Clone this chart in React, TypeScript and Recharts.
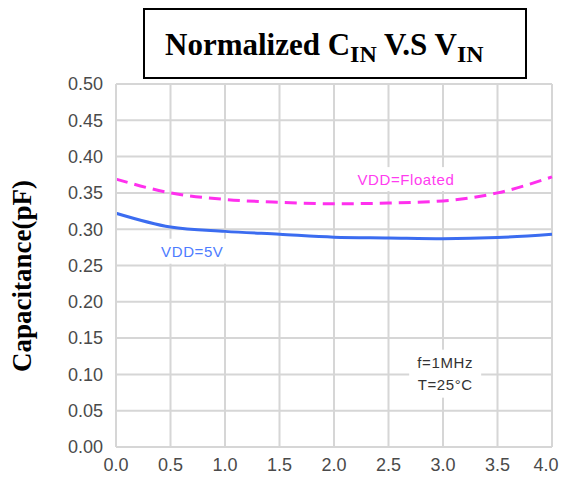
import React from 'react';
import { LineChart, Line, XAxis, YAxis, CartesianGrid, ReferenceDot } from 'recharts';

const vin = [0, 0.5, 1.0, 1.5, 2.0, 2.5, 3.0, 3.5, 4.0];
const capFloated = [0.369, 0.35, 0.341, 0.337, 0.335, 0.336, 0.339, 0.35, 0.372];
const cap5V = [0.322, 0.303, 0.297, 0.293, 0.289, 0.288, 0.287, 0.2885, 0.293];
const xTicks = [0, 0.5, 1.0, 1.5, 2.0, 2.5, 3.0, 3.5, 4.0];
const yTicks = [0, 0.05, 0.1, 0.15, 0.2, 0.25, 0.3, 0.35, 0.4, 0.45, 0.5];

const data = vin.map((v, i) => ({ vin: v, floated: capFloated[i], v5: cap5V[i] }));

const SANS = 'Liberation Sans, Arial, sans-serif';
const SERIF = 'Liberation Serif, Times New Roman, serif';
const GRID = '#d6d6d6';
const TICK = '#4a4a4a';

const BoxLabel = (props: any) => {
  const { viewBox, lines, color, w, h, size } = props;
  if (!viewBox) return null;
  const cx = viewBox.x + (viewBox.width || 0) / 2;
  const cy = viewBox.y + (viewBox.height || 0) / 2;
  const lh = size * 1.5;
  const startY = cy - ((lines.length - 1) * lh) / 2;
  return (
    <g>
      <rect x={cx - w / 2} y={cy - h / 2} width={w} height={h} fill="#fff" />
      {lines.map((t: string, i: number) => (
        <text
          key={i}
          x={cx}
          y={startY + i * lh}
          dy="0.36em"
          textAnchor="middle"
          fontFamily={SANS}
          fontSize={size}
          letterSpacing={0.6}
          fill={color}
        >
          {t}
        </text>
      ))}
    </g>
  );
};

const XTick = (props: any) => {
  const { x, y, payload } = props;
  const last = payload.value === xTicks[xTicks.length - 1];
  return (
    <text
      x={last ? x - 6 : x}
      y={y}
      dy="0.71em"
      textAnchor="middle"
      fontFamily={SANS}
      fontSize={18}
      fill={TICK}
    >
      {Number(payload.value).toFixed(1)}
    </text>
  );
};

export default function App() {
  return (
    <div style={{ position: 'absolute', left: 0, top: 0, width: 563, height: 477, background: '#fff' }}>
      <LineChart width={563} height={477} data={data} margin={{ top: 84, right: 11, left: 0, bottom: 0 }}>
        <CartesianGrid stroke={GRID} strokeWidth={2} />
        <XAxis
          type="number"
          dataKey="vin"
          domain={[0, 4]}
          ticks={xTicks}
          axisLine={{ stroke: GRID, strokeWidth: 2 }}
          tickLine={false}
          tickSize={0}
          tickMargin={11}
          height={30}
          tick={<XTick />}
          interval={0}
        />
        <YAxis
          type="number"
          domain={[0, 0.5]}
          ticks={yTicks}
          tickFormatter={(v: number) => v.toFixed(2)}
          axisLine={{ stroke: GRID, strokeWidth: 2 }}
          tickLine={false}
          tickSize={0}
          tickMargin={13}
          width={116}
          tick={{ fill: TICK, fontSize: 18, fontFamily: SANS }}
          interval={0}
        />
        <ReferenceDot
          x={2.66}
          y={0.369}
          r={0}
          fill="none"
          stroke="none"
          label={<BoxLabel lines={['VDD=Floated']} color="#ff3cf0" w={108} h={24} size={15} />}
        />
        <ReferenceDot
          x={0.70}
          y={0.2697}
          r={0}
          fill="none"
          stroke="none"
          label={<BoxLabel lines={['VDD=5V']} color="#4d7cff" w={84} h={25} size={15} />}
        />
        <ReferenceDot
          x={3.02}
          y={0.101}
          r={0}
          fill="none"
          stroke="none"
          label={<BoxLabel lines={['f=1MHz', 'T=25°C']} color="#333" w={72} h={48} size={15} />}
        />
        <Line
          type="monotone"
          dataKey="floated"
          stroke="#ff30ee"
          strokeWidth={3}
          strokeDasharray="12 7"
          dot={false}
          isAnimationActive={false}
        />
        <Line
          type="monotone"
          dataKey="v5"
          stroke="#3b6cf0"
          strokeWidth={3}
          dot={false}
          isAnimationActive={false}
        />
      </LineChart>
      <svg width={563} height={477} style={{ position: 'absolute', left: 0, top: 0, pointerEvents: 'none' }}>
        <rect x={144} y={9} width={382} height={69} fill="#fff" stroke="#000" strokeWidth={2} />
        <text x={165} y={55} fontFamily={SERIF} fontWeight="bold" fontSize={31} fill="#000">
          Normalized C
          <tspan fontSize={24} dy={7}>IN</tspan>
          <tspan dy={-7}> V.S V</tspan>
          <tspan fontSize={24} dy={7}>IN</tspan>
        </text>
        <text
          transform="rotate(-90)"
          x={-276}
          y={31}
          textAnchor="middle"
          fontFamily={SERIF}
          fontWeight="bold"
          fontSize={27}
          fill="#000"
        >
          Capacitance(pF)
        </text>
      </svg>
    </div>
  );
}
